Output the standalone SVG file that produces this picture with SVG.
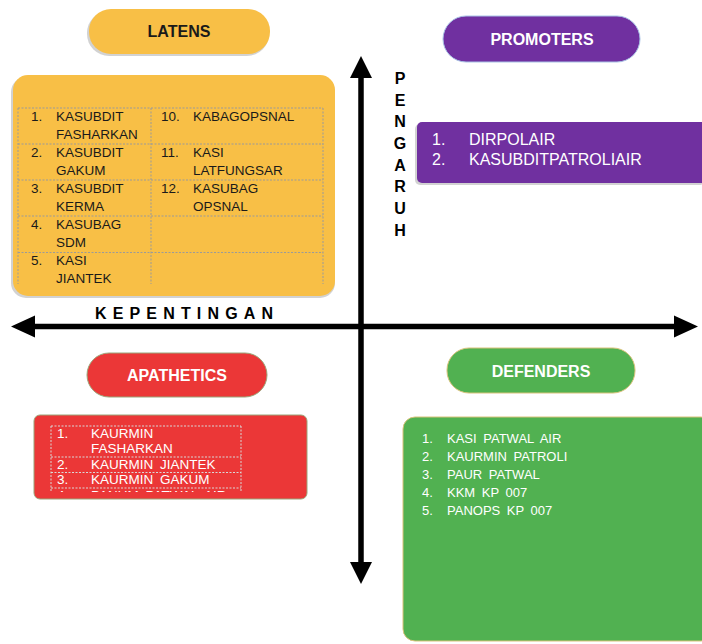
<svg xmlns="http://www.w3.org/2000/svg" width="702" height="644" viewBox="0 0 702 644">
<style>
  text { font-family: "Liberation Sans", Arial, sans-serif; }
  .pillt { font-size: 16px; font-weight: bold; text-anchor: middle; }
  .lat { font-size: 13.5px; fill: #1a1a1a; }
  .wt { fill: #ffffff; }
  .dot { stroke: #9a9a9a; stroke-width: 1; stroke-dasharray: 2 1.5; fill: none; }
  .dotw { stroke: #d8d8d8; stroke-width: 1; stroke-dasharray: 2 1.5; fill: none; }
  .axis { stroke: #000; stroke-width: 5.5; fill: none; }
  .axlab { font-size: 16px; font-weight: bold; fill: #000; }
  .shadow { fill: #8f8f8f; opacity: 0.4; }
</style>
<defs>
  <clipPath id="apaClip"><rect x="35" y="416" width="272" height="76"/></clipPath>
</defs>

<g id="connectors">
  <line class="axis" x1="33" y1="326.5" x2="677" y2="326.5"/>
  <polygon points="11,326.5 35,315.5 35,337.5" fill="#000"/>
  <polygon points="698,326.5 674,315.5 674,337.5" fill="#000"/>
  <line class="axis" x1="361" y1="76" x2="361" y2="565"/>
  <polygon points="361,56 350,78 372,78" fill="#000"/>
  <polygon points="361,584 350,562 372,562" fill="#000"/>
  <text class="axlab" x="95" y="319" textLength="178" lengthAdjust="spacing">KEPENTINGAN</text>
  <g class="axlab" text-anchor="middle">
    <text x="400" y="84">P</text>
    <text x="400" y="106">E</text>
    <text x="400" y="127">N</text>
    <text x="400" y="149">G</text>
    <text x="400" y="171">A</text>
    <text x="400" y="192">R</text>
    <text x="400" y="214">U</text>
    <text x="400" y="236">H</text>
  </g>
</g>

<g id="latens-label">
  <rect class="shadow" x="87" y="11" width="182" height="45" rx="22"/>
  <rect x="89" y="9" width="181" height="45" rx="22" fill="#F8BF46"/>
  <text class="pillt" x="179" y="37" fill="#1a1a1a">LATENS</text>
</g>

<g id="latens-box">
  <rect class="shadow" x="11" y="77" width="324" height="221" rx="15"/>
  <rect x="13" y="75" width="322" height="221" rx="15" fill="#F8BF46"/>
  <path class="dot" d="M18,108 H323 M18,144 H323 M18,180 H323 M18,216 H323 M18,252.5 H323 M18,108 V284 M151,108 V284 M323,108 V284"/>
  <g class="lat">
    <text x="31" y="121">1.</text><text x="56" y="121">KASUBDIT</text><text x="56" y="139">FASHARKAN</text>
    <text x="31" y="157">2.</text><text x="56" y="157">KASUBDIT</text><text x="56" y="175">GAKUM</text>
    <text x="31" y="193">3.</text><text x="56" y="193">KASUBDIT</text><text x="56" y="211">KERMA</text>
    <text x="31" y="229">4.</text><text x="56" y="229">KASUBAG</text><text x="56" y="247">SDM</text>
    <text x="31" y="265">5.</text><text x="56" y="265">KASI</text><text x="56" y="283">JIANTEK</text>
    <text x="161" y="121">10.</text><text x="193" y="121">KABAGOPSNAL</text>
    <text x="161" y="157">11.</text><text x="193" y="157">KASI</text><text x="193" y="175">LATFUNGSAR</text>
    <text x="161" y="193">12.</text><text x="193" y="193">KASUBAG</text><text x="193" y="211">OPSNAL</text>
  </g>
</g>

<g id="promoters-label">
  <rect x="443" y="16" width="197" height="46" rx="23" fill="#7030A0" stroke="#a9c4e6" stroke-width="1"/>
  <text class="pillt wt" x="542" y="45">PROMOTERS</text>
</g>

<g id="promoters-box">
  <rect class="shadow" x="415" y="124" width="290" height="61" rx="5"/>
  <rect x="417" y="122" width="290" height="61" rx="5" fill="#7030A0"/>
  <g class="wt" font-size="16px">
    <text x="432" y="145">1.</text><text x="469" y="145">DIRPOLAIR</text>
    <text x="432" y="165">2.</text><text x="469" y="165">KASUBDITPATROLIAIR</text>
  </g>
</g>

<g id="apathetics-label">
  <rect x="87" y="353" width="180" height="44" rx="22" fill="#EB3737" stroke="#9aa57a" stroke-width="1"/>
  <text class="pillt wt" x="177" y="381">APATHETICS</text>
</g>

<g id="apathetics-box">
  <rect x="34" y="415" width="273" height="84" rx="6" fill="#EB3737" stroke="#9aa57a" stroke-width="1"/>
  <g clip-path="url(#apaClip)">
    <path class="dotw" d="M51,426 H241 M51,457 H241 M51,472.5 H241 M51,488 H241 M51,426 V500 M241,426 V500"/>
    <g class="wt" font-size="13.5px" word-spacing="3">
      <text x="57" y="438">1.</text><text x="91" y="438">KAURMIN</text><text x="91" y="453">FASHARKAN</text>
      <text x="57" y="469">2.</text><text x="91" y="469">KAURMIN JIANTEK</text>
      <text x="57" y="484">3.</text><text x="91" y="484">KAURMIN GAKUM</text>
      <text x="57" y="500">4.</text><text x="91" y="500">PANUM PATWAL AIR</text>
    </g>
  </g>
</g>

<g id="defenders-label">
  <rect x="447" y="348" width="188" height="45" rx="22" fill="#51B151" stroke="#d9c27a" stroke-width="1"/>
  <text class="pillt wt" x="541" y="377">DEFENDERS</text>
</g>

<g id="defenders-box">
  <rect x="403" y="417" width="310" height="224" rx="12" fill="#51B151" stroke="#d9c27a" stroke-width="1"/>
  <g class="wt" font-size="13px" word-spacing="3">
    <text x="422" y="443">1.</text><text x="447" y="443">KASI PATWAL AIR</text>
    <text x="422" y="461">2.</text><text x="447" y="461">KAURMIN PATROLI</text>
    <text x="422" y="479">3.</text><text x="447" y="479">PAUR PATWAL</text>
    <text x="422" y="497">4.</text><text x="447" y="497">KKM KP 007</text>
    <text x="422" y="515">5.</text><text x="447" y="515">PANOPS KP 007</text>
  </g>
</g>
</svg>
